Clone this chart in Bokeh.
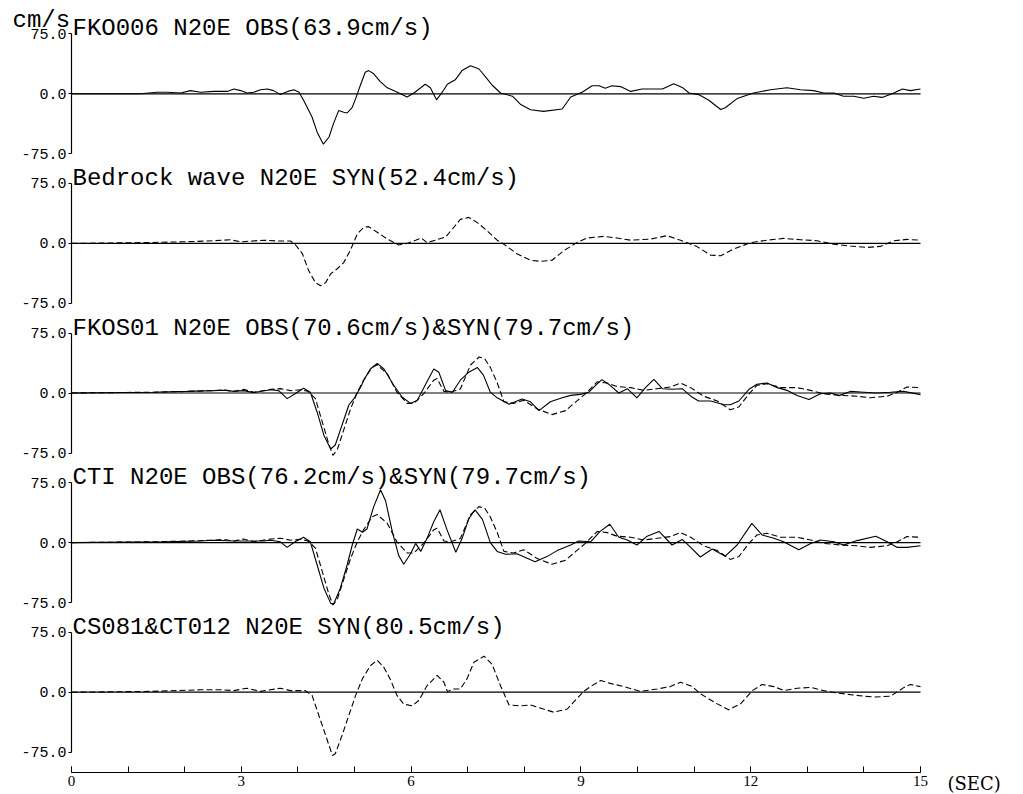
from bokeh.plotting import figure
from bokeh.models import Range1d, FixedTicker, PrintfTickFormatter, LinearAxis
from bokeh.core.properties import value
from bokeh.embed import file_html
from bokeh.resources import INLINE

# ---------------- data (time in s, velocity in cm/s) ----------------
TIME_TICKS = [0, 3, 6, 9, 12, 15]
SECOND_TICKS = list(range(16))
AMP_TICKS = [-75, 0, 75]
UNIT_LABEL = "cm/s"
TIME_LABEL = "(SEC)"

FKO006_OBS = [
    (0, 0), (1.22, 0), (1.51, 2), (1.69, 2), (1.93, 1), (2.10, 4), (2.28, 2), (2.51, 3),
    (2.75, 3), (2.87, 6), (2.99, 4), (3.10, 1), (3.22, 2), (3.34, 5), (3.46, 6), (3.57, 4),
    (3.69, -1), (3.82, 3), (3.93, 5), (4.02, 2), (4.10, -8), (4.25, -29), (4.34, -48),
    (4.45, -63), (4.55, -54), (4.63, -37), (4.72, -21), (4.81, -23), (4.87, -24), (4.96, -17),
    (5.02, -6), (5.11, 12), (5.19, 27), (5.25, 29), (5.34, 25), (5.46, 15), (5.58, 7.5),
    (5.69, 4), (5.81, 0), (5.93, -4), (6.05, 1), (6.17, 7.5), (6.25, 12), (6.34, 7.5),
    (6.45, -7.5), (6.55, 2), (6.64, 12), (6.78, 17.5), (6.90, 29), (7.05, 35), (7.20, 31),
    (7.34, 19), (7.43, 11), (7.58, 1), (7.79, -3), (7.93, -13), (8.11, -20), (8.34, -22),
    (8.67, -19), (8.82, -4), (9.02, 2), (9.20, 10), (9.32, 10), (9.43, 7), (9.55, 10),
    (9.70, 9), (9.88, 3), (10.08, 6), (10.23, 6), (10.44, 6), (10.64, 12.5), (10.79, 8),
    (10.91, 1), (11.08, -1), (11.26, -8), (11.47, -19.6), (11.55, -17.5), (11.76, -6),
    (12.05, 1), (12.35, 5), (12.64, 7.5), (12.88, 5), (13.11, 4), (13.29, 1), (13.47, 1),
    (13.64, -3), (13.82, -3), (14.00, -5.5), (14.17, -3), (14.32, -4.5), (14.50, 0),
    (14.68, 6), (14.82, 4), (15.0, 6),
]

BEDROCK_SYN = [
    (0, 0), (1.28, 1), (1.98, 2), (2.40, 3), (2.81, 4.5), (2.99, 2), (3.40, 4), (3.63, 3),
    (3.87, 3), (3.96, -2), (4.08, -13), (4.19, -34), (4.31, -49), (4.40, -53), (4.49, -49),
    (4.58, -38), (4.69, -32), (4.81, -24), (4.93, -8), (5.05, 12), (5.16, 20), (5.25, 21),
    (5.40, 14), (5.58, 5.4), (5.78, -2), (5.93, 0), (6.08, 4), (6.18, 6.7), (6.28, 1),
    (6.43, 4), (6.61, 8), (6.73, 18), (6.87, 30), (7.02, 32.5), (7.17, 26), (7.34, 16),
    (7.52, 4), (7.64, -1), (7.87, -13), (8.11, -21), (8.29, -22.5), (8.49, -21), (8.70, -9),
    (8.93, 1), (9.11, 6.7), (9.40, 8.75), (9.64, 6.7), (9.88, 4), (10.23, 5.4), (10.52, 9.6),
    (10.76, 4), (11.05, -4), (11.29, -14.6), (11.47, -15.4), (11.70, -7), (12.00, 1),
    (12.29, 4), (12.58, 6.25), (12.88, 4.6), (13.17, 3.3), (13.47, -1), (13.76, -3.3),
    (14.06, -5), (14.29, -3.75), (14.53, 3.3), (14.76, 5), (15.0, 4),
]

FKOS01_OBS = [
    (0, 0), (1.45, 1), (2.04, 2), (2.51, 3), (2.69, 3.5), (2.87, 2), (3.04, 3), (3.22, 0.5),
    (3.52, 4), (3.66, 3), (3.81, -7), (3.95, -1), (4.10, 6), (4.22, 1), (4.34, -24),
    (4.46, -53), (4.58, -70), (4.66, -65), (4.78, -40), (4.90, -15), (5.00, -6), (5.11, 7.5),
    (5.18, 18), (5.28, 30), (5.40, 37), (5.52, 30), (5.69, 10), (5.84, -5), (5.99, -13),
    (6.11, -9), (6.25, 10), (6.40, 30), (6.49, 26), (6.61, 3), (6.73, 1), (6.87, 16),
    (7.02, 26), (7.17, 32), (7.28, 22), (7.40, 1), (7.52, -6), (7.73, -14), (7.96, -7.5),
    (8.11, -11), (8.26, -22), (8.46, -11), (8.67, -6), (8.82, -3), (8.99, -1.7), (9.14, 1),
    (9.26, 9.6), (9.37, 16.7), (9.49, 11), (9.67, 0), (9.82, 5.4), (9.99, -6), (10.14, 6.7),
    (10.29, 17), (10.44, 5.4), (10.61, 4.6), (10.79, 5.4), (10.94, -4), (11.08, -10),
    (11.29, -10), (11.53, -14.6), (11.64, -14.6), (11.79, -10), (11.97, 4.6), (12.11, 11),
    (12.29, 12.5), (12.47, 6.7), (12.64, 3.3), (12.82, -3), (13.03, -8), (13.23, -1),
    (13.41, 0), (13.56, -3.3), (13.76, 2), (14.00, 1), (14.23, 0), (14.47, 1), (14.70, 2),
    (15.0, -2),
]

# synthetic at the site (same trace drawn for FKOS01 and CTI, 79.7 cm/s)
SITE_SYN = [
    (0, 0), (1.45, 1), (2.04, 2), (2.51, 3), (2.69, 4), (2.87, 2), (3.04, 4.5), (3.22, 1),
    (3.52, 4.5), (3.69, 5.5), (3.87, 3), (4.05, 4), (4.18, 2), (4.31, -7), (4.43, -36),
    (4.55, -65), (4.62, -78), (4.70, -70), (4.81, -46), (4.93, -20), (5.05, 1), (5.16, 16),
    (5.31, 32), (5.40, 35), (5.58, 24), (5.75, 1), (5.93, -13), (6.05, -13), (6.22, -1),
    (6.40, 16), (6.46, 18), (6.58, 2), (6.70, 1), (6.87, 5), (7.05, 35), (7.20, 45),
    (7.30, 43), (7.40, 32), (7.52, 13), (7.64, -11), (7.81, -13), (7.99, -9), (8.23, -20),
    (8.49, -27), (8.73, -22), (8.91, -11), (9.08, -1), (9.29, 14), (9.46, 12.5), (9.64, 8),
    (9.88, 6.7), (10.11, 3.3), (10.35, 5.4), (10.58, 7.5), (10.76, 12.5), (10.94, 6.7),
    (11.17, -4), (11.41, -10), (11.64, -21), (11.79, -17.5), (11.97, -1), (12.11, 9.6),
    (12.29, 11.7), (12.53, 6.7), (12.82, 6.7), (13.06, 3.3), (13.29, -1), (13.59, -3),
    (13.88, -4), (14.11, -6), (14.41, -4), (14.59, 1), (14.76, 7.5), (15.0, 6.7),
]

CTI_OBS = [
    (0, 0), (1.69, 1), (2.28, 2), (2.51, 3), (2.87, 2), (3.04, 2), (3.40, 2), (3.52, 3),
    (3.69, 1), (3.81, -6), (3.95, 1), (4.10, 6.7), (4.22, 1), (4.34, -28), (4.46, -57),
    (4.58, -76), (4.63, -77), (4.75, -57), (4.87, -28), (4.96, -3), (5.05, 17), (5.14, 13),
    (5.22, 17), (5.34, 45), (5.46, 66), (5.55, 52), (5.67, 13), (5.78, -16), (5.87, -27),
    (5.99, -14), (6.08, -1), (6.17, -11), (6.28, 5), (6.40, 26), (6.51, 41), (6.64, 15),
    (6.79, -12), (6.90, 5), (7.02, 30), (7.13, 41), (7.26, 29), (7.40, 0), (7.52, -11),
    (7.67, -14.6), (7.87, -14), (8.19, -24), (8.40, -17.5), (8.58, -10), (8.82, -3),
    (8.96, 2), (9.17, 1), (9.34, 14), (9.51, 23), (9.67, 6.7), (9.82, 3.3), (9.99, -3),
    (10.17, 8), (10.38, 14), (10.61, -3), (10.79, 4), (10.94, -6), (11.11, -18), (11.32, -8),
    (11.55, -17), (11.76, -3), (12.02, 24), (12.20, 9.6), (12.41, 5.4), (12.58, 1),
    (12.85, -9), (13.06, -1), (13.23, 3.3), (13.47, 1), (13.64, -3), (13.88, 2.5),
    (14.21, 8), (14.41, 1), (14.59, -6), (14.76, -6), (15.0, -4),
]

CS081_SYN = [
    (0, 0), (1.40, 1), (1.87, 2), (2.28, 3), (2.63, 3), (2.87, 2), (3.10, 5), (3.34, 1),
    (3.69, 5), (3.87, 2), (4.13, 2), (4.25, -4), (4.37, -29), (4.49, -54), (4.61, -79),
    (4.66, -77), (4.78, -54), (4.90, -29), (5.02, -4), (5.14, 17), (5.28, 33), (5.40, 40),
    (5.52, 31), (5.64, 15), (5.75, -4), (5.87, -15), (6.02, -17), (6.14, -10), (6.28, 8),
    (6.46, 21), (6.58, 12.5), (6.64, 1), (6.75, 4), (6.87, 4), (6.99, 17), (7.11, 37.5),
    (7.29, 45), (7.43, 35), (7.58, 8), (7.73, -16), (7.93, -17), (8.11, -16), (8.29, -20),
    (8.52, -25), (8.76, -21), (8.87, -12.5), (9.05, 1), (9.17, 7), (9.35, 14.6), (9.52, 11),
    (9.76, 7), (10.05, 1), (10.35, 4), (10.58, 7), (10.76, 12.5), (10.97, 7), (11.11, -2),
    (11.41, -14.6), (11.61, -22), (11.82, -14.6), (12.03, 2), (12.20, 9.6), (12.41, 7),
    (12.59, 2), (12.82, 5), (13.06, 6), (13.29, 2), (13.53, -1), (13.76, -3), (14.00, -5),
    (14.18, -6), (14.47, -5), (14.71, 6), (14.82, 9.6), (15.0, 7),
]

PANEL_TITLES = [
    "FKO006 N20E OBS(63.9cm/s)",
    "Bedrock wave N20E SYN(52.4cm/s)",
    "FKOS01 N20E OBS(70.6cm/s)&SYN(79.7cm/s)",
    "CTI N20E OBS(76.2cm/s)&SYN(79.7cm/s)",
    "CS081&CT012 N20E SYN(80.5cm/s)",
]
PANEL_OBS = [FKO006_OBS, None, FKOS01_OBS, CTI_OBS, None]
PANEL_SYN = [None, BEDROCK_SYN, SITE_SYN, SITE_SYN, CS081_SYN]

# ---------------- layout (pixels) ----------------
W, H = 1023, 794
X0_PX = 71.0            # pixel of t = 0
PX_PER_SEC = 56.6
PX_PER_UNIT = 0.8       # pixels per cm/s
PANEL_ZERO_PX = [93.3 + 149.6 * k for k in range(5)]
XAXIS_GAP_PX = 80.5     # axis line below panel-5 zero line
MONO = "Liberation Mono"
SERIF = "Liberation Serif"

x_start = -X0_PX / PX_PER_SEC
x_end = (W - X0_PX) / PX_PER_SEC


def y_range_for(zero_px):
    top = zero_px / PX_PER_UNIT
    return Range1d(top - H / PX_PER_UNIT, top)


p = figure(
    width=W, height=H,
    x_range=Range1d(x_start, x_end), y_range=y_range_for(PANEL_ZERO_PX[0]),
    x_axis_location=None, y_axis_location=None,
    toolbar_location=None, output_backend="svg",
    min_border_left=0, min_border_right=0, min_border_top=0, min_border_bottom=0,
    outline_line_color=None, background_fill_color="white", border_fill_color="white",
)
p.grid.visible = False
p.extra_y_ranges = {f"p{k}": y_range_for(PANEL_ZERO_PX[k]) for k in range(5)}

for k, title in enumerate(PANEL_TITLES):
    rn = f"p{k}"

    ya = LinearAxis(y_range_name=rn, fixed_location=0,
                    ticker=FixedTicker(ticks=AMP_TICKS, minor_ticks=[]),
                    formatter=PrintfTickFormatter(format="%.1f"))
    ya.bounds = (AMP_TICKS[0], AMP_TICKS[-1])
    ya.axis_line_color = "black"
    ya.axis_line_width = 1.2
    ya.major_tick_line_color = "black"
    ya.major_tick_in = 0
    ya.major_tick_out = 3
    ya.minor_tick_line_color = None
    ya.major_label_standoff = 2
    ya.major_label_text_font = MONO
    ya.major_label_text_font_size = "15px"
    ya.major_label_text_color = "black"
    p.add_layout(ya, "left")

    # zero line across the time window
    p.line([TIME_TICKS[0], TIME_TICKS[-1]], [0, 0], y_range_name=rn,
           line_color="black", line_width=1.2)

    syn = PANEL_SYN[k]
    obs = PANEL_OBS[k]
    if syn is not None:
        t, v = zip(*syn)
        p.line(list(t), list(v), y_range_name=rn, line_color="black",
               line_width=1.1, line_dash="6 3")
    if obs is not None:
        t, v = zip(*obs)
        p.line(list(t), list(v), y_range_name=rn, line_color="black", line_width=1.1)

    p.text(x=[0], y=[AMP_TICKS[-1]], text=[title], y_range_name=rn,
           x_offset=1, y_offset=-5,
           text_font=value(MONO), text_font_size="24px",
           text_baseline="alphabetic", text_align="left", text_color="black")

# unit label above the first panel
p.text(x=[0], y=[AMP_TICKS[-1]], text=[UNIT_LABEL], y_range_name="p0",
       x_offset=-59, y_offset=-13,
       text_font=value(MONO), text_font_size="24px",
       text_baseline="alphabetic", text_align="left", text_color="black")

# time axis below the last panel
x_loc = -XAXIS_GAP_PX / PX_PER_UNIT
xa = LinearAxis(y_range_name="p4", fixed_location=x_loc,
                ticker=FixedTicker(ticks=TIME_TICKS, minor_ticks=SECOND_TICKS))
xa.bounds = (TIME_TICKS[0], TIME_TICKS[-1])
xa.axis_line_color = "black"
xa.axis_line_width = 1.2
xa.major_tick_line_color = "black"
xa.minor_tick_line_color = "black"
xa.major_tick_in = 6
xa.major_tick_out = 0
xa.minor_tick_in = 6
xa.minor_tick_out = 0
xa.major_label_standoff = 3
xa.major_label_text_font = SERIF
xa.major_label_text_font_size = "15px"
xa.major_label_text_color = "black"
p.add_layout(xa, "below")

p.text(x=[TIME_TICKS[-1]], y=[x_loc], text=[TIME_LABEL], y_range_name="p4",
       x_offset=27, y_offset=11,
       text_font=value("DejaVu Serif"), text_font_size="18px",
       text_baseline="middle", text_align="left", text_color="black")

open("out.html", "w").write(file_html(p, INLINE))
